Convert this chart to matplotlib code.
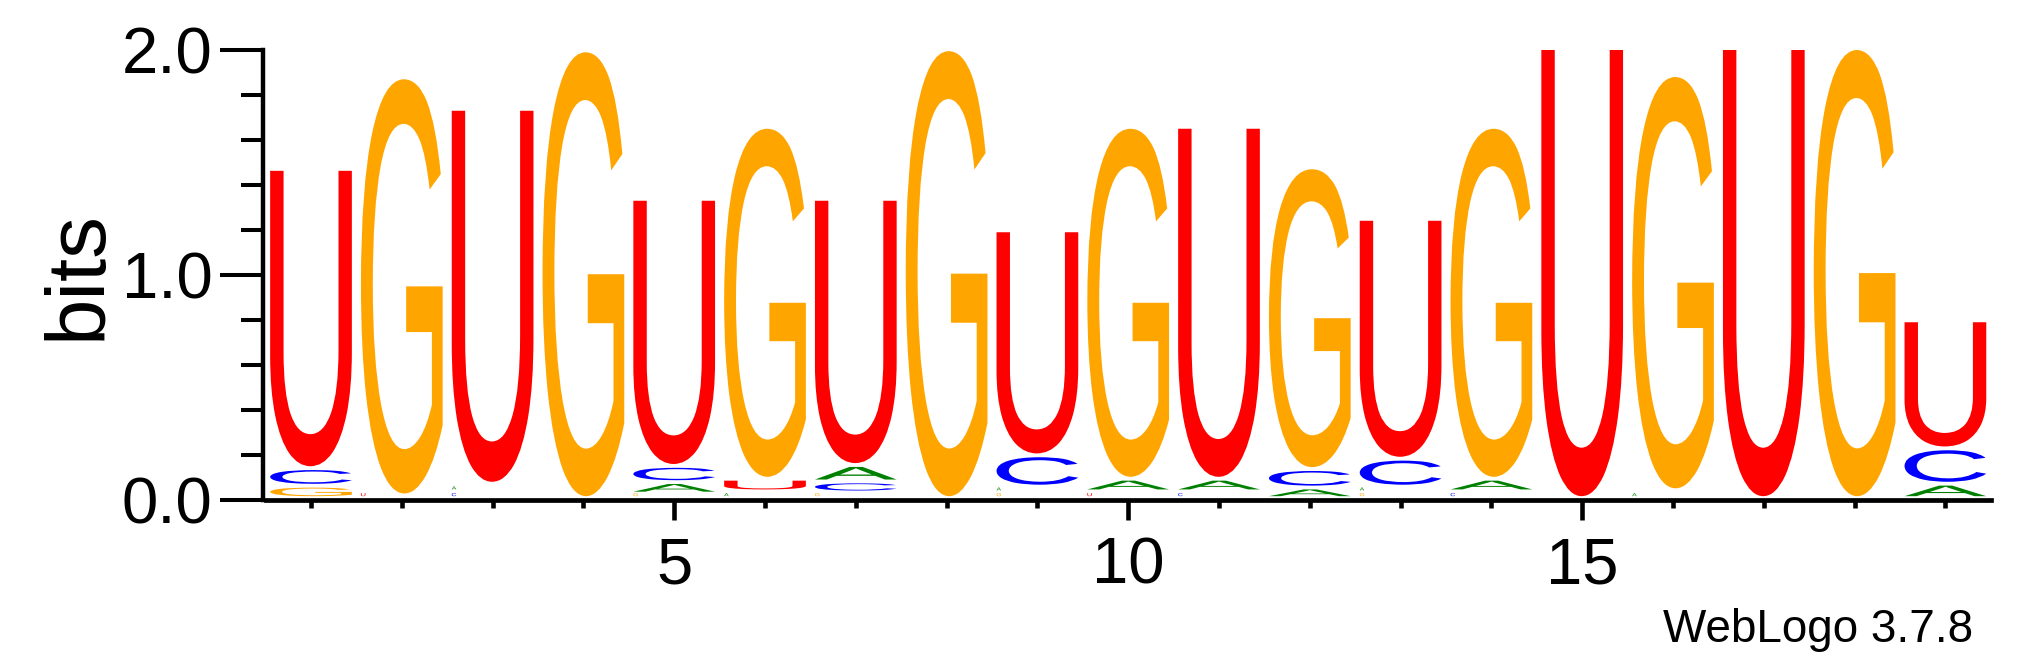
import numpy as np
import matplotlib
matplotlib.use('Agg')
import matplotlib.pyplot as plt
import matplotlib.transforms as mtransforms
from matplotlib.textpath import TextPath
from matplotlib.patches import PathPatch
from matplotlib.font_manager import FontProperties
from matplotlib.ticker import FixedLocator

plt.rcParams['font.family'] = ['Liberation Sans', 'DejaVu Sans']

# Sequence logo data (bits per letter, per position)
positions = list(range(1, 20))
letters = ['A', 'C', 'G', 'U']
heights_A = [0.0, 0.0, 0.034, 0.0, 0.051, 0.030, 0.073, 0.0, 0.026, 0.056,
             0.056, 0.047, 0.026, 0.056, 0.0, 0.035, 0.0, 0.0, 0.064]
heights_C = [0.078, 0.0, 0.030, 0.0, 0.072, 0.0, 0.049, 0.0, 0.139, 0.0,
             0.030, 0.082, 0.124, 0.030, 0.0, 0.0, 0.0, 0.0, 0.157]
heights_G = [0.055, 1.858, 0.0, 1.990, 0.020, 1.564, 0.025, 1.995, 0.025, 1.564,
             0.0, 1.341, 0.025, 1.564, 0.0, 1.845, 0.0, 2.0, 0.0]
heights_U = [1.330, 0.012, 1.666, 0.0, 1.187, 0.056, 1.183, 0.0, 1.000, 0.030,
             1.564, 0.0, 1.066, 0.0, 2.0, 0.0, 2.0, 0.0, 0.569]
colors = {'A': '#008000', 'C': '#0000ff', 'G': '#ffa500', 'U': '#ff0000'}

y_ticks = [0.0, 1.0, 2.0]
y_tick_labels = ['0.0', '1.0', '2.0']
x_major = [5, 10, 15]

fp = FontProperties(family='Liberation Sans')


def draw_letter(ax, ch, x0, x1, y0, y1, color):
    p = TextPath((0, 0), ch, size=1, prop=fp)
    bb = p.get_extents()
    t = (mtransforms.Affine2D()
         .translate(-bb.x0, -bb.y0)
         .scale((x1 - x0) / bb.width, (y1 - y0) / bb.height)
         .translate(x0, y0))
    ax.add_patch(PathPatch(t.transform_path(p), fc=color, ec='none', lw=0))


W, H = 2025, 667
fig = plt.figure(figsize=(W / 100, H / 100), dpi=100)
ax = fig.add_axes([265.6 / W, 167 / H, (1990.8 - 265.6) / W, 450 / H])
ax.set_xlim(0.5, 19.5)
ax.set_ylim(0, 2.0)

table = np.array([heights_A, heights_C, heights_G, heights_U])
half = 0.45
gap = 0.017
for i, pos in enumerate(positions):
    col = table[:, i]
    order = sorted(range(4), key=lambda k: col[k])
    y = 0.0
    for k in order:
        h = col[k]
        if h <= 0:
            continue
        ch = letters[k]
        if h < 0.04:
            # tiny letters render as small marks at the left edge
            draw_letter(ax, ch, pos - half, pos - half + 0.05,
                        y + gap, y + gap + 0.014, colors[ch])
        else:
            draw_letter(ax, ch, pos - half, pos + half, y + gap, y + h, colors[ch])
        y += h

for s in ['top', 'right']:
    ax.spines[s].set_visible(False)
ax.spines['left'].set_linewidth(3.2)
ax.spines['bottom'].set_linewidth(3.4)
ax.spines['left'].set_position(('outward', 2.2))

ax.yaxis.set_major_locator(FixedLocator(y_ticks))
ax.yaxis.set_minor_locator(FixedLocator(np.arange(0, 2.01, 0.2)))
ax.set_yticklabels(y_tick_labels)
ax.tick_params(axis='y', which='major', length=31, width=2.9, labelsize=47, pad=5)
ax.tick_params(axis='y', which='minor', length=16, width=2.9)

ax.xaxis.set_major_locator(FixedLocator(x_major))
ax.xaxis.set_minor_locator(FixedLocator(positions))
ax.set_xticklabels([str(v) for v in x_major])
ax.tick_params(axis='x', which='major', length=14.4, width=3.3, labelsize=47, pad=12)
ax.tick_params(axis='x', which='minor', length=5.8, width=3.3)

fig.text(117.8 / W, 1 - 275 / H, 'bits', rotation=90, ha='right', va='center', fontsize=60)
fig.text(1973 / W, 25 / H, 'WebLogo 3.7.8', ha='right', va='baseline', fontsize=33)

fig.savefig('out.png', dpi=100)
